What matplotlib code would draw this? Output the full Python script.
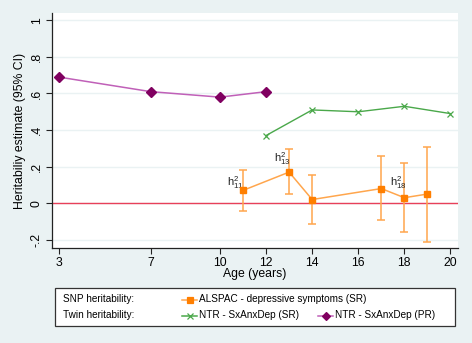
import matplotlib
matplotlib.use("Agg")
import matplotlib.pyplot as plt
from matplotlib.lines import Line2D
from matplotlib.patches import Rectangle

plt.rcParams['font.family'] = ['Liberation Sans', 'DejaVu Sans']

# twin heritability, parent report
pr_age = [3, 7, 10, 12]
pr_h2 = [0.69, 0.61, 0.58, 0.61]

# twin heritability, self report
sr_age = [12, 14, 16, 18, 20]
sr_h2 = [0.37, 0.51, 0.50, 0.53, 0.49]

# SNP heritability (ALSPAC) with 95% CI
snp_age = [11, 13, 14, 17, 18, 19]
snp_h2 = [0.07, 0.17, 0.02, 0.08, 0.03, 0.05]
snp_lo = [-0.045, 0.05, -0.115, -0.09, -0.155, -0.21]
snp_hi = [0.18, 0.295, 0.155, 0.26, 0.22, 0.31]

x_ticks = [3, 7, 10, 12, 14, 16, 18, 20]
y_ticks = [-0.2, 0, 0.2, 0.4, 0.6, 0.8, 1]
y_labels = ['-.2', '0', '.2', '.4', '.6', '.8', '1']

bg = '#eaf2f3'
orange_m = '#ff7f00'
orange_l = '#ffa64d'
green = '#4aa84a'
purple_m = '#800060'
purple_l = '#c060b8'

fig = plt.figure(figsize=(4.72, 3.43), dpi=100, facecolor=bg)
ax = fig.add_axes([0.1095, 0.277, 0.8605, 0.685])
ax.set_facecolor('white')

ax.grid(axis='y', color=bg, linewidth=1)
ax.set_axisbelow(True)
ax.axhline(0, color='#e8405a', linewidth=1, zorder=1)

ax.plot(pr_age, pr_h2, color=purple_l, linewidth=1.1, zorder=3)
ax.plot(pr_age, pr_h2, linestyle='none', marker='D', markersize=5.5,
        color=purple_m, zorder=4)
ax.plot(sr_age, sr_h2, color=green, linewidth=1.0, marker='x',
        markersize=4, markeredgewidth=0.9, zorder=3)

err_lo = [m - l for m, l in zip(snp_h2, snp_lo)]
err_hi = [h - m for m, h in zip(snp_h2, snp_hi)]
ax.errorbar(snp_age, snp_h2, yerr=[err_lo, err_hi], fmt='none',
            ecolor=orange_l, elinewidth=1.1, capsize=3.2, capthick=1.1, zorder=3)
ax.plot(snp_age, snp_h2, color=orange_l, linewidth=1.1, zorder=3)
ax.plot(snp_age, snp_h2, linestyle='none', marker='s', markersize=5,
        color=orange_m, zorder=4)

for lab, xx, yy in [('11', 10.3, 0.11), ('13', 12.35, 0.245), ('18', 17.37, 0.115)]:
    ax.text(xx, yy, r'$\mathregular{h^2_{%s}}$' % lab, fontsize=8,
            ha='left', va='center', color='#222222')

ax.set_xlim(2.7, 20.32)
ax.set_ylim(-0.245, 1.04)
ax.set_xticks(x_ticks)
ax.set_yticks(y_ticks)
ax.set_yticklabels(y_labels, rotation=90, va='center')
ax.tick_params(labelsize=8.8, length=4, width=0.8, color='#222222', pad=2.5)
for s in ['top', 'right']:
    ax.spines[s].set_visible(False)
for s in ['left', 'bottom']:
    ax.spines[s].set_color('#222222')
    ax.spines[s].set_linewidth(0.9)
ax.set_xlabel('Age (years)', fontsize=8.8, labelpad=-1)
ax.set_ylabel('Heritabiliy estimate (95% CI)', fontsize=8.8, labelpad=3)

# legend box
W, H = 472.0, 343.0
def fx(px):
    return px / W
def fy(py):
    return 1 - py / H

fig.patches.append(Rectangle((fx(55), fy(326)), fx(455) - fx(55), fy(287.5) - fy(326),
                             transform=fig.transFigure, facecolor='white',
                             edgecolor='#333333', linewidth=0.9))
rows = [299.5, 315.5]
fig.text(fx(63), fy(rows[0]), 'SNP heritability:', fontsize=7.2, va='center')
fig.text(fx(63), fy(rows[1]), 'Twin heritability:', fontsize=7.2, va='center')

entries = [
    (182, rows[0], orange_l, orange_m, 's', 'ALSPAC - depressive symptoms (SR)'),
    (182, rows[1], green, green, 'x', 'NTR - SxAnxDep (SR)'),
    (318, rows[1], purple_l, purple_m, 'D', 'NTR - SxAnxDep (PR)'),
]
for x0, yy, lc, mc, mk, txt in entries:
    fig.lines.append(Line2D([fx(x0), fx(x0 + 15)], [fy(yy), fy(yy)],
                            transform=fig.transFigure, color=lc, linewidth=1.1))
    fig.lines.append(Line2D([fx(x0 + 7.5)], [fy(yy)], transform=fig.transFigure,
                            linestyle='none', marker=mk, markersize=4,
                            color=mc, markeredgewidth=0.9))
    fig.text(fx(x0 + 17), fy(yy), txt, fontsize=7.2, va='center')

fig.savefig('out.png', dpi=100, facecolor=bg)
